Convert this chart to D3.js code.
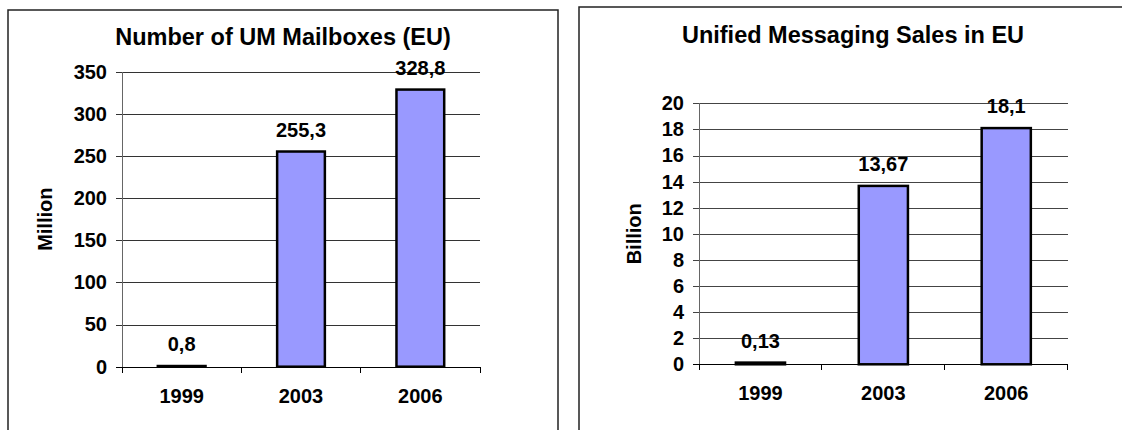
<!DOCTYPE html>
<html>
<head>
<meta charset="utf-8">
<script src="https://cdn.jsdelivr.net/npm/d3@7"></script>
<style>
  html, body { margin: 0; padding: 0; background: #fff; }
  svg { display: block; }
  text { font-family: "Liberation Sans", Arial, sans-serif; font-weight: bold; fill: #000; }
</style>
</head>
<body>
<svg id="chart" width="1122" height="430"></svg>
<script>
// Years shared by both charts
const years = ["1999", "2003", "2006"];

// Unified messaging mailboxes in the EU (million)
const mailboxValues = [0.8, 255.3, 328.8];
const mailboxTicks = [0, 50, 100, 150, 200, 250, 300, 350];

// Unified messaging sales in the EU (billion)
const salesValues = [0.13, 13.67, 18.1];
const salesTicks = [0, 2, 4, 6, 8, 10, 12, 14, 16, 18, 20];

const titles = ["Number of UM Mailboxes (EU)", "Unified Messaging Sales in EU"];
const unitLabels = ["Million", "Billion"];

// Decimal comma, as printed on the bars
const fmt = v => String(v).replace(".", ",");

const svg = d3.select("#chart");

function drawPanel(cfg) {
  const g = svg.append("g");

  // Panel frame (bottom and, for the right one, right edge run off the page)
  g.append("path")
    .attr("d", cfg.framePath)
    .attr("fill", "none")
    .attr("stroke", "#222")
    .attr("stroke-width", 1.5);

  // Title
  g.append("text")
    .attr("x", cfg.titleX)
    .attr("y", cfg.titleY)
    .attr("text-anchor", "middle")
    .style("font-size", "23.5px")
    .text(cfg.title);

  const x = d3.scaleBand()
    .domain(years)
    .range([cfg.x0, cfg.x1])
    .paddingInner(0.6)
    .paddingOuter(0.3);

  const y = d3.scaleLinear()
    .domain([0, cfg.yMax])
    .range([cfg.y1, cfg.y0]);

  const w = cfg.x1 - cfg.x0;

  // Y axis with gridlines
  const yAxis = d3.axisLeft(y)
    .tickValues(cfg.ticks)
    .tickSize(6)
    .tickPadding(9);

  const ya = g.append("g")
    .attr("transform", `translate(${cfg.x0},0)`)
    .call(yAxis);
  ya.select(".domain").remove();
  ya.selectAll(".tick line")
    .attr("x1", -6)
    .attr("x2", w)
    .attr("stroke", (d) => d === 0 ? "#000" : cfg.gridColor)
    .attr("stroke-width", 1)
    .attr("shape-rendering", "crispEdges");
  ya.attr("font-family", null).attr("font-size", null);
  ya.selectAll(".tick text").style("font-size", "20px");

  // Vertical axis line
  g.append("line")
    .attr("x1", cfg.x0).attr("x2", cfg.x0)
    .attr("y1", y(cfg.yMax)).attr("y2", cfg.y1 + 6)
    .attr("stroke", "#666")
    .attr("stroke-width", 1)
    .attr("shape-rendering", "crispEdges");

  // Category boundary ticks below the base line
  const bounds = d3.range(years.length + 1).map(i => cfg.x0 + i * x.step());
  g.selectAll("line.bound")
    .data(bounds)
    .join("line")
    .attr("class", "bound")
    .attr("x1", d => d).attr("x2", d => d)
    .attr("y1", cfg.y1).attr("y2", cfg.y1 + 6)
    .attr("stroke", "#000")
    .attr("shape-rendering", "crispEdges");

  // X axis labels
  const xa = g.append("g")
    .attr("transform", `translate(0,${cfg.y1})`)
    .call(d3.axisBottom(x).tickSize(0).tickPadding(22));
  xa.select(".domain").remove();
  xa.attr("font-family", null).attr("font-size", null);
  xa.selectAll(".tick text").style("font-size", "20px");

  // Bars
  g.selectAll("rect.bar")
    .data(cfg.values)
    .join("rect")
    .attr("class", "bar")
    .attr("x", (d, i) => x(years[i]))
    .attr("width", x.bandwidth())
    .attr("y", d => y(d))
    .attr("height", d => y(0) - y(d))
    .attr("fill", "#9999FF")
    .attr("stroke", "#000")
    .attr("stroke-width", 2.5);

  // Value labels
  g.selectAll("text.val")
    .data(cfg.values)
    .join("text")
    .attr("class", "val")
    .attr("x", (d, i) => x(years[i]) + x.bandwidth() / 2)
    .attr("y", d => y(d) - 15)
    .attr("text-anchor", "middle")
    .style("font-size", "20px")
    .text(d => fmt(d));

  // Unit label
  const cy = (cfg.y0 + cfg.y1) / 2;
  g.append("text")
    .attr("transform", `translate(${cfg.unitX},${cy}) rotate(-90)`)
    .attr("text-anchor", "middle")
    .style("font-size", "20px")
    .text(cfg.unit);
}

drawPanel({
  framePath: "M8,440 L8,10 L558,10 L558,440",
  title: titles[0], titleX: 283, titleY: 45,
  x0: 122, x1: 480, y0: 71.7, y1: 366.7,
  yMax: 350, ticks: mailboxTicks, values: mailboxValues,
  unit: unitLabels[0], unitX: 52, gridColor: "#333"
});

drawPanel({
  framePath: "M579,440 L579,7 L1130,7",
  title: titles[1], titleX: 853, titleY: 43,
  x0: 699, x1: 1067.7, y0: 103.3, y1: 364.3,
  yMax: 20, ticks: salesTicks, values: salesValues,
  unit: unitLabels[1], unitX: 641, gridColor: "#444"
});
</script>
</body>
</html>
